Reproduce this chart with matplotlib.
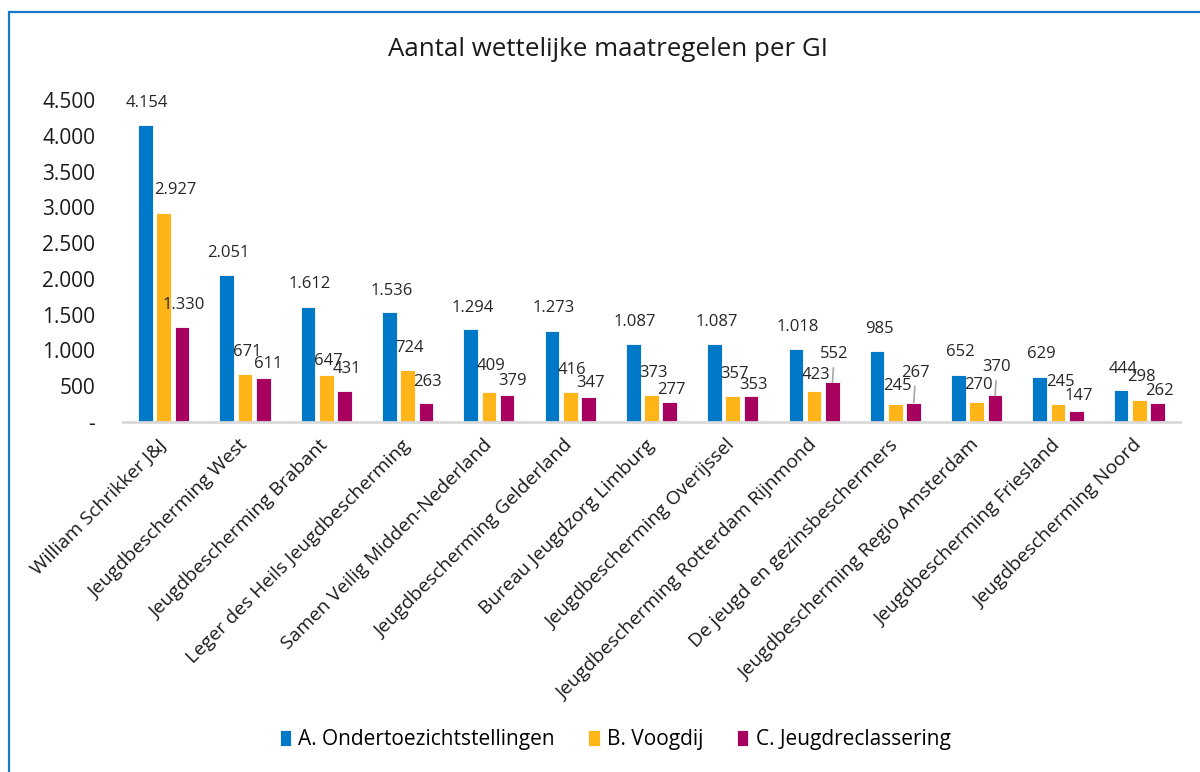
import matplotlib
matplotlib.use('Agg')
import matplotlib.pyplot as plt
import numpy as np
from matplotlib.patches import Rectangle

plt.rcParams['font.family'] = ['Open Sans', 'DejaVu Sans']

organisaties = ['William Schrikker J&J', 'Jeugdbescherming West', 'Jeugdbescherming Brabant',
                'Leger des Heils Jeugdbescherming', 'Samen Veilig Midden-Nederland',
                'Jeugdbescherming Gelderland', 'Bureau Jeugdzorg Limburg',
                'Jeugdbescherming Overijssel', 'Jeugdbescherming Rotterdam Rijnmond',
                'De jeugd en gezinsbeschermers', 'Jeugdbescherming Regio Amsterdam',
                'Jeugdbescherming Friesland', 'Jeugdbescherming Noord']
ots = [4154, 2051, 1612, 1536, 1294, 1273, 1087, 1087, 1018, 985, 652, 629, 444]
voogdij = [2927, 671, 647, 724, 409, 416, 373, 357, 423, 245, 270, 245, 298]
jeugdreclassering = [1330, 611, 431, 263, 379, 347, 277, 353, 552, 267, 370, 147, 262]
reeksen = ['A. Ondertoezichtstellingen', 'B. Voogdij', 'C. Jeugdreclassering']
yticks = [0, 500, 1000, 1500, 2000, 2500, 3000, 3500, 4000, 4500]

kleuren = ['#0078C8', '#FFB518', '#A8005F']

# hoe ver elk label boven de balk staat (pixels), zoals in Excel handmatig verschoven
hoogte_labels = [
    [22, 22, 23, 21, 21, 23, 22, 22, 22, 22, 23, 23, 21],
    [23, 22, 14, 22, 26, 22, 22, 22, 16, 18, 17, 22, 23],
    [22, 14, 22, 21, 14, 14, 12, 11, 28, 30, 28, 15, 12],
]
schuif_labels = [
    [2] * 13,
    [12, 2, 2, 2, 2, 2, 2, 2, 2, 2, 2, 2, 2],
    [2, 5, 2, 2, 5, 2, 2, 2, 2, 2, 2, 2, 2],
]


def fmt(v):
    if v == 0:
        return '-'
    return f"{v:,}".replace(',', '.')


fig = plt.figure(figsize=(12, 7.72), dpi=100)
ax = fig.add_axes([123 / 1200, 1 - 421.7 / 772, (1180 - 123) / 1200, (421.7 - 100.3) / 772])

x = np.arange(len(organisaties))
breedte = 0.18
stap = 0.225
data = [ots, voogdij, jeugdreclassering]

for i, reeks in enumerate(data):
    pos = x + (i - 1) * stap
    ax.bar(pos, reeks, width=breedte, color=kleuren[i], edgecolor='white', linewidth=0.6,
           label=reeksen[i], zorder=2)
    for j, v in enumerate(reeks):
        dy = hoogte_labels[i][j]
        dx = schuif_labels[i][j]
        props = None
        if dy >= 27:
            props = dict(arrowstyle='-', color='#A6A6A6', lw=1.2, shrinkA=2, shrinkB=0)
        ax.annotate(fmt(v), xy=(pos[j], v), xytext=(dx, dy), textcoords='offset pixels',
                    ha='center', va='center', fontsize=12, color='#262626',
                    arrowprops=props, zorder=3)

ax.set_xlim(-0.5, len(organisaties) - 0.5)
ax.set_ylim(0, 4500)
ax.set_yticks(yticks)
ax.set_yticklabels([fmt(t) for t in yticks], fontsize=15, color='#1a1a1a')
ax.set_xticks(x)
ax.set_xticklabels(organisaties, rotation=45, ha='right', va='center',
                   rotation_mode='anchor', fontsize=13.9, color='#1a1a1a')
ax.tick_params(axis='both', length=0)
ax.tick_params(axis='y', pad=20)
ax.tick_params(axis='x', pad=15)

for s in ['top', 'right', 'left']:
    ax.spines[s].set_visible(False)
ax.spines['bottom'].set_color('#D9D9D9')
ax.spines['bottom'].set_linewidth(2)

fig.text(608 / 1200, 1 - 49 / 772, 'Aantal wettelijke maatregelen per GI', ha='center', va='center',
         fontsize=18.6, color='#1a1a1a')

fig.legend(loc='center', bbox_to_anchor=(615 / 1200, 1 - 740 / 772), ncol=3, frameon=False,
           fontsize=15, handlelength=0.55, handleheight=0.8, handletextpad=0.35, columnspacing=1.6)

fig.patches.append(Rectangle((9 / 1200, -0.2), 1.2, 1.2 - 12 / 772, transform=fig.transFigure,
                             fill=False, edgecolor='#1479C8', linewidth=1.6))

fig.savefig('out.png', dpi=100, facecolor='white')
